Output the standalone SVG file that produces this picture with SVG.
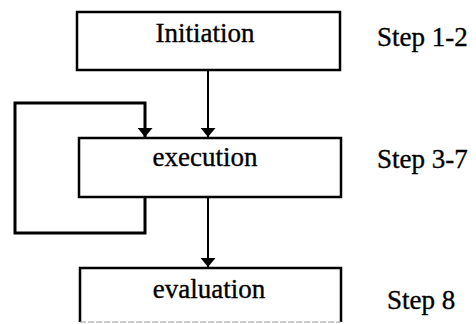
<svg xmlns="http://www.w3.org/2000/svg" width="476" height="324" viewBox="0 0 476 324">
<defs>
<style>
.box{fill:#fff;stroke:#000;stroke-width:2.5}
.lbl{font-family:"Liberation Serif","Times New Roman",serif;font-size:27px;fill:#000;stroke:#000;stroke-width:0.35}
.c{text-anchor:middle}
.ln{fill:none;stroke:#000;stroke-width:2}
.loop{fill:none;stroke:#000;stroke-width:3}
</style>
<marker id="ah" viewBox="0 0 9 15" refX="9" refY="7.5" markerWidth="9" markerHeight="15" markerUnits="userSpaceOnUse" orient="auto">
<path d="M0,0 L9,7.5 L0,15 Z" fill="#000"/>
</marker>
</defs>
<rect width="476" height="324" fill="#fff"/>
<g id="connectors">
<line class="ln" x1="208" y1="71" x2="208" y2="137" marker-end="url(#ah)"/>
<line class="ln" x1="208" y1="198" x2="208" y2="267" marker-end="url(#ah)"/>
<path class="loop" d="M145,198 V233 H15 V103 H145 V137" marker-end="url(#ah)"/>
</g>
<g id="initiation">
<rect class="box" x="77" y="12" width="263" height="58"/>
<text class="lbl c" x="205" y="42">Initiation</text>
</g>
<g id="execution">
<rect class="box" x="79" y="138" width="262" height="59"/>
<text class="lbl c" x="205" y="166">execution</text>
</g>
<g id="evaluation">
<path d="M80,322 V268 H341 V322" fill="#fff" stroke="#000" stroke-width="2.5"/>
<line x1="80" y1="322" x2="341" y2="322" stroke="#999" stroke-width="1" stroke-dasharray="6,2"/>
<text class="lbl c" x="209" y="298">evaluation</text>
</g>
<g id="steps">
<text class="lbl" x="377" y="46">Step 1-2</text>
<text class="lbl" x="377" y="168">Step 3-7</text>
<text class="lbl" x="387" y="309">Step 8</text>
</g>
</svg>
